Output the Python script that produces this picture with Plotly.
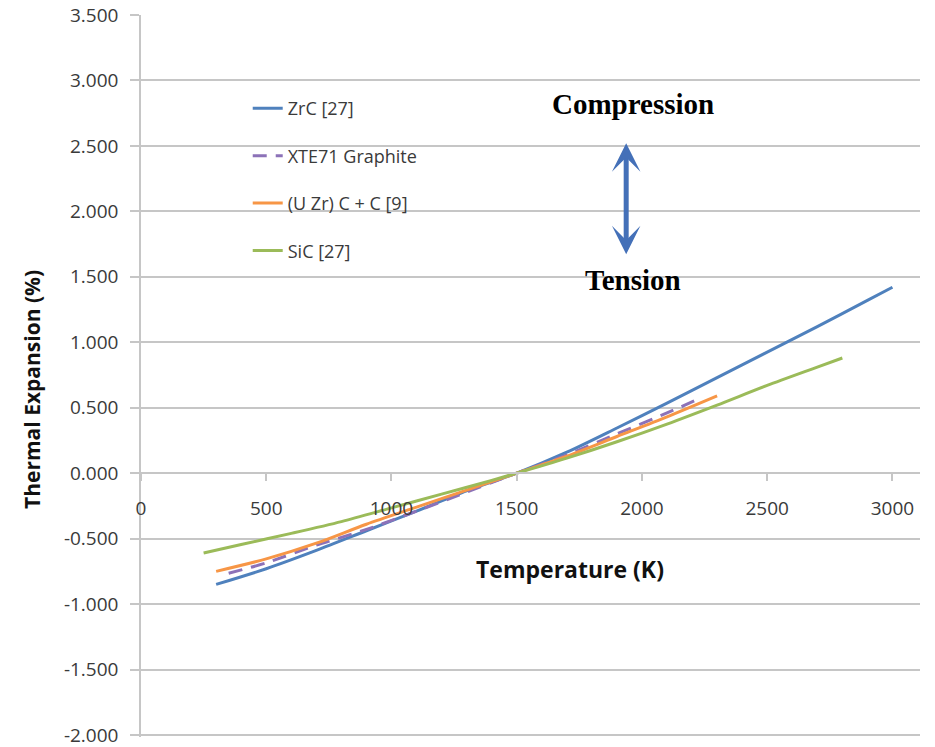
import plotly.graph_objects as go

# Thermal expansion data (temperature in K, expansion in %)
temp_zrc = [300, 500, 700, 900, 1100, 1300, 1500, 1700, 1900, 2100, 2300, 2500, 2700, 2900, 3000]
exp_zrc = [-0.85, -0.73, -0.59, -0.44, -0.29, -0.135, 0.0, 0.16, 0.345, 0.535, 0.73, 0.925, 1.12, 1.32, 1.42]

temp_xte = [350, 500, 700, 900, 1100, 1300, 1500, 1700, 1900, 2100, 2240]
exp_xte = [-0.765, -0.685, -0.55, -0.43, -0.29, -0.145, 0.0, 0.14, 0.30, 0.46, 0.58]

temp_uzrc = [300, 500, 700, 900, 1100, 1300, 1500, 1700, 1900, 2100, 2300]
exp_uzrc = [-0.75, -0.655, -0.535, -0.39, -0.26, -0.13, 0.0, 0.13, 0.28, 0.43, 0.59]

temp_sic = [250, 400, 600, 800, 1000, 1200, 1400, 1500, 1700, 1900, 2100, 2300, 2500, 2700, 2800]
exp_sic = [-0.61, -0.545, -0.46, -0.37, -0.265, -0.16, -0.055, 0.0, 0.115, 0.24, 0.375, 0.52, 0.67, 0.81, 0.88]

series_names = ["ZrC [27]", "XTE71 Graphite", "(U Zr) C + C [9]", "SiC [27]"]

x_ticks = [0, 500, 1000, 1500, 2000, 2500, 3000]
y_ticks = [3.5, 3.0, 2.5, 2.0, 1.5, 1.0, 0.5, 0.0, -0.5, -1.0, -1.5, -2.0]

# Arrow between the two regime labels
arrow_temp = 1937
arrow_top = 2.52
arrow_bottom = 1.66

GRID = "#C6C6C6"
TXT = "#3A3A3A"
SANS = "'Open Sans', Lato, sans-serif"
SERIF = "'Liberation Serif', 'Times New Roman', serif"

styles = [
    dict(color="#4F81BD", width=3),
    dict(color="#8C72B8", width=3, dash="14px,9px"),
    dict(color="#F79646", width=3),
    dict(color="#9BBB59", width=3),
]
xs = [temp_zrc, temp_xte, temp_uzrc, temp_sic]
ys = [exp_zrc, exp_xte, exp_uzrc, exp_sic]

fig = go.Figure()
for i, (name, x, y, st) in enumerate(zip(series_names, xs, ys, styles)):
    fig.add_trace(go.Scatter(
        x=x, y=y, name=name, mode="lines",
        line=dict(shape="spline", smoothing=0.8, **st),
        legendgroup=f"g{i}",
    ))

# lower bound a little below -2 so the bottom gridline is not clipped
Y_MIN, Y_MAX = -2.0155, 3.5
PLOT_TOP, PLOT_BOTTOM = 15, 10

fig.update_layout(
    width=935, height=747,
    margin=dict(l=141, r=15, t=PLOT_TOP, b=PLOT_BOTTOM, autoexpand=False),
    paper_bgcolor="white", plot_bgcolor="white",
    font=dict(family=SANS, color=TXT, size=19),
    showlegend=True,
    legend=dict(
        x=0.137, y=0.896, xanchor="left", yanchor="top",
        bgcolor="rgba(0,0,0,0)", borderwidth=0,
        font=dict(family=SANS, size=18, color=TXT),
        traceorder="grouped", tracegroupgap=21,
        itemwidth=30,
    ),
    xaxis=dict(
        range=[0, 3110], automargin=False,
        anchor="free", position=(0 - Y_MIN) / (Y_MAX - Y_MIN),
        tickvals=x_ticks, ticktext=[str(v) for v in x_ticks],
        ticks="outside", ticklen=7, tickcolor=GRID, tickwidth=1.5,
        showline=True, linecolor=GRID, linewidth=1.5,
        showgrid=False, zeroline=False,
        ticklabelstandoff=11, ticklabeloverflow="allow",
        tickfont=dict(family=SANS, size=19, color=TXT),
    ),
    yaxis=dict(
        range=[Y_MIN, Y_MAX], automargin=False,
        tickvals=y_ticks, ticktext=[f"{v:.3f}" for v in y_ticks],
        ticks="outside", ticklen=9, tickcolor=GRID, tickwidth=1.5,
        showline=True, linecolor=GRID, linewidth=1.5,
        showgrid=True, gridcolor=GRID, gridwidth=1.5,
        zeroline=False,
        ticklabelstandoff=8, ticklabeloverflow="allow",
        tickfont=dict(family=SANS, size=19, color=TXT),
    ),
    annotations=[
        dict(text="<b>Thermal Expansion (%)</b>", xref="paper", yref="paper",
             x=-0.14, y=(737 - 389) / 722, textangle=-90, showarrow=False,
             font=dict(family=SANS, size=21, color="#111111"),
             xanchor="center", yanchor="middle"),
        dict(text="<b>Temperature (K)</b>", xref="paper", yref="paper",
             x=(570 - 141) / 779, y=(737 - 569) / 722, showarrow=False,
             font=dict(family=SANS, size=23, color="#111111"),
             xanchor="center", yanchor="middle"),
        dict(text="<b>Compression</b>", xref="x", yref="paper",
             x=1965, y=(737 - 104) / 722, showarrow=False,
             font=dict(family=SERIF, size=29, color="black"),
             xanchor="center", yanchor="middle"),
        dict(text="<b>Tension</b>", xref="x", yref="paper",
             x=1965, y=(737 - 280) / 722, showarrow=False,
             font=dict(family=SERIF, size=29, color="black"),
             xanchor="center", yanchor="middle"),
        dict(text="", xref="x", yref="y", axref="x", ayref="y",
             x=arrow_temp, y=arrow_top, ax=arrow_temp, ay=arrow_bottom,
             showarrow=True, arrowside="end+start",
             arrowhead=3, startarrowhead=3,
             arrowsize=0.95, startarrowsize=0.95,
             arrowwidth=5, arrowcolor="#4470B8",
             standoff=0, startstandoff=0),
    ],
)

fig.write_html("out.html")
